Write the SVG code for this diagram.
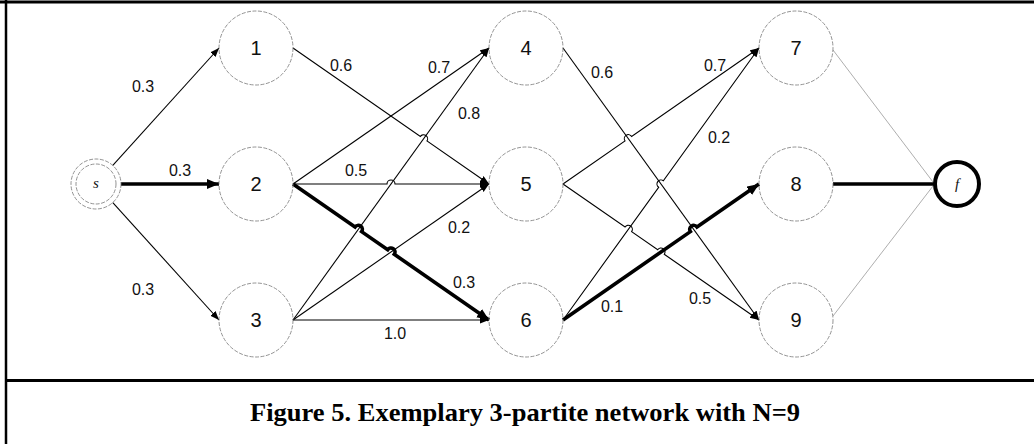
<svg xmlns="http://www.w3.org/2000/svg" width="1034" height="444" viewBox="0 0 1034 444">
<defs>
<style>
.node{fill:none;stroke:#777;stroke-width:0.8;stroke-dasharray:4,1.5}
.nl{font-family:"Liberation Sans",Arial,sans-serif;font-size:20px;fill:#111;text-anchor:middle}
.el{font-family:"Liberation Sans",Arial,sans-serif;font-size:16px;fill:#111;text-anchor:middle}
.e{fill:none;stroke:#000;stroke-width:1.1;marker-end:url(#ah)}
.eb{fill:none;stroke:#000;stroke-width:3.6;marker-end:url(#ahb)}
.eg{fill:none;stroke:#999;stroke-width:0.8}
.it{font-family:"Liberation Serif","Times New Roman",serif;font-style:italic;font-size:15px;fill:#111;text-anchor:middle}
.frame{stroke:#000;fill:none}
</style>
<marker id="ah" markerUnits="userSpaceOnUse" markerWidth="10" markerHeight="8" refX="9" refY="3.5" orient="auto">
<path d="M0,0 L9,3.5 L0,7 z" fill="#000"/>
</marker>
<marker id="ahb" markerUnits="userSpaceOnUse" markerWidth="14" markerHeight="12" refX="12" refY="5" orient="auto">
<path d="M0,0 L12,5 L0,10 z" fill="#000"/>
</marker>
</defs>
<rect width="1034" height="444" fill="#fff"/>
<g id="frame">
<line class="frame" x1="0" y1="2" x2="1034" y2="2" stroke-width="3"/>
<line class="frame" x1="6" y1="0" x2="6" y2="444" stroke-width="2.5"/>
<line class="frame" x1="6" y1="380.5" x2="1034" y2="380.5" stroke-width="3"/>
</g>
<g id="connectors">
<path class="e" d="M112.8,165.4 L219,48"/>
<path class="eb" d="M121,184 L219,184"/>
<path class="e" d="M112.8,202.6 L219,320"/>
<path class="e" d="M293,48 L420.38,136.39 A4,4 0 0 1 426.95,140.95 L489,184"/>
<path class="e" d="M293,184 L489,48"/>
<path class="e" d="M293,184 L387,184 A4,4 0 0 1 395,184 L489,184"/>
<path class="eb" d="M293,184 L355.04,227.05 A4,4 0 0 1 361.62,231.61 L387.71,249.72 A4,4 0 0 1 394.29,254.28 L489,320"/>
<path class="e" d="M293,320 L489,48"/>
<path class="e" d="M293,320 L489,184"/>
<path class="e" d="M293,320 L489,320"/>
<path class="e" d="M563,48 L759,320"/>
<path class="e" d="M563,184 L625.04,140.95 A4,4 0 0 1 631.62,136.39 L759,48"/>
<path class="e" d="M563,184 L625.04,227.05 A4,4 0 0 1 631.62,231.61 L657.71,249.72 A4,4 0 0 1 664.29,254.28 L759,320"/>
<path class="e" d="M563,320 L658.66,187.25 A4,4 0 0 1 663.34,180.75 L759,48"/>
<path class="eb" d="M563,320 L690.38,231.61 A4,4 0 0 1 696.95,227.05 L759,184"/>
<path class="eg" d="M833,50 L933,182"/>
<path fill="none" stroke="#000" stroke-width="3.6" d="M833,184 L934,184"/>
<path class="eg" d="M833,316 L933,186"/>
</g>
<g id="edge-labels">
<text class="el" x="143" y="92">0.3</text>
<text class="el" x="180" y="176">0.3</text>
<text class="el" x="143" y="295">0.3</text>
<text class="el" x="341" y="71">0.6</text>
<text class="el" x="439" y="73">0.7</text>
<text class="el" x="469" y="119">0.8</text>
<text class="el" x="356" y="176">0.5</text>
<text class="el" x="459" y="233">0.2</text>
<text class="el" x="464" y="288">0.3</text>
<text class="el" x="395" y="339">1.0</text>
<text class="el" x="602" y="78">0.6</text>
<text class="el" x="715" y="71">0.7</text>
<text class="el" x="719" y="143">0.2</text>
<text class="el" x="612" y="312">0.1</text>
<text class="el" x="700" y="304">0.5</text>
</g>
<g id="node-s"><circle class="node" cx="96" cy="184" r="25"/><circle class="node" cx="96" cy="184" r="20"/><text class="it" x="96" y="188">s</text></g>
<g id="node-1"><circle class="node" cx="256" cy="48" r="37"/><text class="nl" x="256" y="55">1</text></g>
<g id="node-2"><circle class="node" cx="256" cy="184" r="37"/><text class="nl" x="256" y="191">2</text></g>
<g id="node-3"><circle class="node" cx="256" cy="320" r="37"/><text class="nl" x="256" y="327">3</text></g>
<g id="node-4"><circle class="node" cx="526" cy="48" r="37"/><text class="nl" x="526" y="55">4</text></g>
<g id="node-5"><circle class="node" cx="526" cy="184" r="37"/><text class="nl" x="526" y="191">5</text></g>
<g id="node-6"><circle class="node" cx="526" cy="320" r="37"/><text class="nl" x="526" y="327">6</text></g>
<g id="node-7"><circle class="node" cx="796" cy="48" r="37"/><text class="nl" x="796" y="55">7</text></g>
<g id="node-8"><circle class="node" cx="796" cy="184" r="37"/><text class="nl" x="796" y="191">8</text></g>
<g id="node-9"><circle class="node" cx="796" cy="320" r="37"/><text class="nl" x="796" y="327">9</text></g>
<g id="node-f"><circle cx="957" cy="184" r="22" fill="#fff" stroke="#000" stroke-width="4"/><text class="it" x="957" y="189">f</text></g>
<text x="250" y="421" font-family="Liberation Serif,'Times New Roman',serif" font-weight="bold" font-size="26" textLength="550" lengthAdjust="spacingAndGlyphs" fill="#000">Figure 5. Exemplary 3-partite network with N=9</text>
</svg>
